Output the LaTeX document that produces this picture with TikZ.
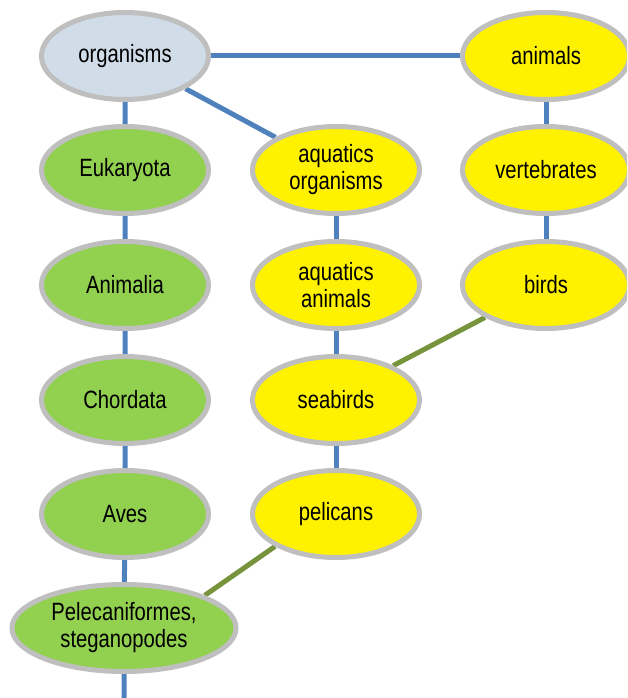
\documentclass[tikz,border=0pt]{standalone}
\usepackage{fontspec}
\setmainfont[FakeStretch=0.81]{Liberation Sans}
\definecolor{orgblue}{RGB}{208, 220, 232}
\definecolor{taxgreen}{RGB}{146, 208, 80}
\definecolor{ringgray}{RGB}{191, 191, 191}
\definecolor{linkblue}{RGB}{79, 129, 189}
\definecolor{linkolive}{RGB}{119, 147, 60}
\usetikzlibrary{shapes.geometric, positioning, backgrounds}

\begin{document}
\begin{tikzpicture}[x=1pt, y=-1pt,
  term/.style={ellipse, draw=ringgray, line width=5pt, minimum width=167pt, minimum height=87pt,
    inner sep=0pt, align=center, font=\fontsize{25}{27}\selectfont},
  root/.style={term, fill=orgblue},
  taxon/.style={term, fill=taxgreen},
  common/.style={term, fill=yellow},
  islink/.style={draw=linkblue, line width=5pt},
  samelink/.style={draw=linkolive, line width=5pt}]
  \useasboundingbox (0,0) rectangle (627,698);
  \clip (0,0) rectangle (627,698);

  % scientific column
  \node[root] (organisms) at (125,56) {organisms};
  \node[taxon] (eukaryota) at (125,170) {Eukaryota};
  \node[taxon] (animalia) at (125,285) {Animalia};
  \node[taxon] (chordata) at (125,400) {Chordata};
  \node[taxon] (aves) at (125,514) {Aves};
  \node[taxon, minimum width=224pt] (pelecani) at (124,628) {Pelecaniformes,\\steganopodes};
  \coordinate (below) at (124,698);

  % common names
  \node[common] (aqorg) at (336,170) {aquatics\\organisms};
  \node[common] (aqani) at (336,285) {aquatics\\animals};
  \node[common] (seabirds) at (336,400) {seabirds};
  \node[common] (pelicans) at (336,514) {pelicans};
  \node[common] (animals) at (546,56) {animals};
  \node[common] (vertebrates) at (546,170) {vertebrates};
  \node[common] (birds) at (546,285) {birds};

  \begin{pgfonlayer}{background}
    \draw[islink] (organisms) -- (animals);
    \draw[islink] (organisms) -- (aqorg);
    \draw[islink] (organisms) -- (eukaryota) -- (animalia) -- (chordata) -- (aves) -- (pelecani) -- (below);
    \draw[islink] (aqorg) -- (aqani) -- (seabirds) -- (pelicans);
    \draw[islink] (animals) -- (vertebrates) -- (birds);
    \draw[samelink] (birds.208) -- (seabirds.31);
    \draw[samelink] (pelicans.208) -- (pelecani.22);
  \end{pgfonlayer}
\end{tikzpicture}
\end{document}
